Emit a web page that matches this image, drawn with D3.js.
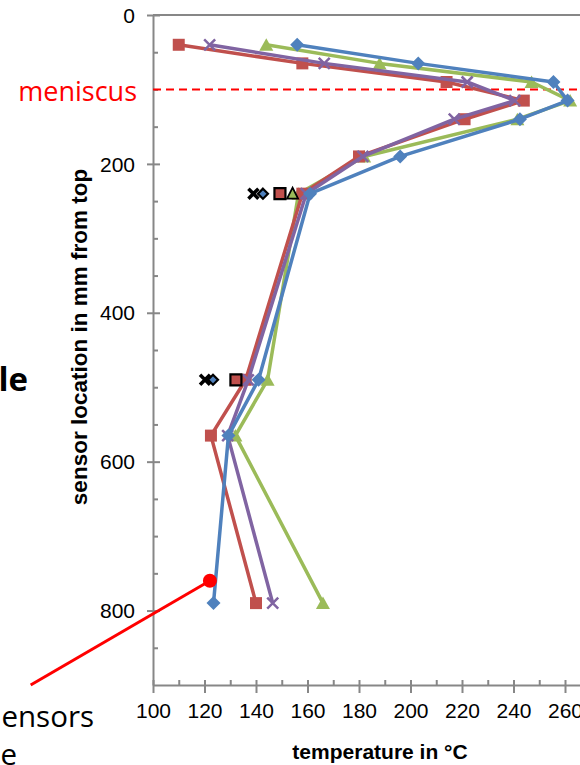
<!DOCTYPE html>
<html><head><meta charset="utf-8">
<script src="https://cdn.jsdelivr.net/npm/d3@7"></script>
<style>body{margin:0;background:#fff;overflow:hidden} svg{display:block}</style>
</head><body>
<svg id="c" width="580" height="765"></svg>
<script>
// ---- data ----
const depths = [40, 65, 90, 115, 140, 190, 240, 490, 565, 790];
const seriesBlue   = [156, 203, 255.5, 261, 242.5, 196, 161, 141, 129.3, 123.5];
const seriesRed    = [110, 158, 214, 244, 221, 180, 158, 136, 122.5, 140];
const seriesGreen  = [144, 188, 247, 262, 241.5, 182, 156.5, 144.5, 132, 166];
const seriesPurple = [122, 166.5, 222, 240.5, 217, 181.5, 159.5, 137, 129, 146.5];
const measDepths   = [240, 490];
const measCross    = [139, 120.2];
const measDiamond  = [142.7, 123.3];
const measSquare   = [149.3, 132.2];
const measTriangle = [154.2];
const xTicks = [100, 120, 140, 160, 180, 200, 220, 240, 260];
const xMinor = [110, 130, 150, 170, 190, 210, 230, 250, 270];
const yTicks = [0, 200, 400, 600, 800];
const yMinor = [50, 100, 150, 250, 300, 350, 450, 500, 550, 650, 700, 750, 850];
const meniscusDepth = 100;
const sensorPoint = [122.1, 760];
const sensorLineStart = [52.5, 900];

const svg = d3.select('#c');
const x = d3.scaleLinear().domain([100, 280]).range([153, 616.5]);
const y = d3.scaleLinear().domain([0, 900]).range([15, 685]);
const AX = '#878787';
const FONT = "'Liberation Sans', Arial, sans-serif";

// top border
svg.append('line').attr('x1', x(100)).attr('x2', 580).attr('y1', y(0)).attr('y2', y(0))
  .attr('stroke', AX).attr('stroke-width', 2);

// y axis
const gy = svg.append('g').attr('transform', `translate(${x(100)},0)`)
  .call(d3.axisLeft(y).tickValues(yTicks).tickSizeInner(6).tickSizeOuter(0).tickPadding(12));
gy.select('.domain').attr('stroke', AX).attr('stroke-width', 2);
gy.selectAll('.tick line').attr('stroke', AX).attr('stroke-width', 2).attr('x1', 7);
gy.selectAll('.tick text').attr('font-family', FONT).attr('font-size', 21).attr('fill', '#000').attr('dy', '0.34em');
const gym = svg.append('g').attr('transform', `translate(${x(100)},0)`)
  .call(d3.axisRight(y).tickValues(yMinor).tickSize(5).tickFormat(''));
gym.select('.domain').remove();
gym.selectAll('.tick line').attr('stroke', AX).attr('stroke-width', 2);

// x axis
const gx = svg.append('g').attr('transform', `translate(0,${y(900)})`)
  .call(d3.axisBottom(x).tickValues(xTicks).tickSizeInner(8).tickSizeOuter(0).tickPadding(10));
gx.select('.domain').attr('stroke', AX).attr('stroke-width', 2);
gx.selectAll('.tick line').attr('stroke', AX).attr('stroke-width', 2).attr('y1', -5);
gx.selectAll('.tick text').attr('font-family', FONT).attr('font-size', 21).attr('fill', '#000');
const gxm = svg.append('g').attr('transform', `translate(0,${y(900)})`)
  .call(d3.axisTop(x).tickValues(xMinor).tickSize(5).tickFormat(''));
gxm.select('.domain').remove();
gxm.selectAll('.tick line').attr('stroke', AX).attr('stroke-width', 2);

// meniscus line
svg.append('line').attr('x1', x(100)).attr('x2', 580).attr('y1', y(meniscusDepth)).attr('y2', y(meniscusDepth))
  .attr('stroke', '#ff0000').attr('stroke-width', 2).attr('stroke-dasharray', '8,5');

// series
const shapes = {
  diamond: 'M0,-7L7,0L0,7L-7,0Z',
  square: 'M-6,-6H6V6H-6Z',
  triangle: 'M0,-6.5L7,6L-7,6Z',
  cross: 'M-5.5,-5.5L5.5,5.5M5.5,-5.5L-5.5,5.5'
};
const series = [
  {vals: seriesGreen, color: '#9bbb59', shape: 'triangle'},
  {vals: seriesRed, color: '#c0504d', shape: 'square'},
  {vals: seriesPurple, color: '#8064a2', shape: 'cross'},
  {vals: seriesBlue, color: '#4f81bd', shape: 'diamond'}
];
const line = d3.line().x(d => x(d[0])).y(d => y(d[1]));
series.forEach(s => {
  const pts = s.vals.map((v, i) => [v, depths[i]]);
  const g = svg.append('g');
  g.append('path').attr('d', line(pts)).attr('fill', 'none').attr('stroke', s.color)
    .attr('stroke-width', 3.5).attr('stroke-linejoin', 'round');
  g.selectAll('path.m').data(pts).join('path').attr('class', 'm')
    .attr('transform', d => `translate(${x(d[0])},${y(d[1])})`)
    .attr('d', shapes[s.shape])
    .attr('fill', s.shape === 'cross' ? 'none' : s.color)
    .attr('stroke', s.shape === 'cross' ? s.color : 'none')
    .attr('stroke-width', 2.5);
});

// measurement markers
const mg = svg.append('g');
mg.selectAll('path.cx').data(measCross).join('path').attr('class', 'cx')
  .attr('transform', (d, i) => `translate(${x(d)},${y(measDepths[i])})`)
  .attr('d', 'M-5,-5L5,5M5,-5L-5,5').attr('stroke', '#000').attr('stroke-width', 3.5);
mg.selectAll('path.sq').data(measSquare).join('path').attr('class', 'sq')
  .attr('transform', (d, i) => `translate(${x(d)},${y(measDepths[i])})`)
  .attr('d', 'M-5.5,-5.5H5.5V5.5H-5.5Z').attr('fill', '#c0504d').attr('stroke', '#000').attr('stroke-width', 2.2);
mg.selectAll('path.tr').data(measTriangle).join('path').attr('class', 'tr')
  .attr('transform', (d, i) => `translate(${x(d)},${y(measDepths[i])})`)
  .attr('d', 'M0,-6L5.5,5L-5.5,5Z').attr('fill', '#9bbb59').attr('stroke', '#000').attr('stroke-width', 1.8);
mg.selectAll('path.di').data(measDiamond).join('path').attr('class', 'di')
  .attr('transform', (d, i) => `translate(${x(d)},${y(measDepths[i])})`)
  .attr('d', 'M0,-5L5,0L0,5L-5,0Z').attr('fill', '#4f81bd').attr('stroke', '#000').attr('stroke-width', 2.2);

// sensor annotation
svg.append('line').attr('x1', x(sensorLineStart[0])).attr('y1', y(sensorLineStart[1]))
  .attr('x2', x(sensorPoint[0])).attr('y2', y(sensorPoint[1]))
  .attr('stroke', '#ff0000').attr('stroke-width', 3);
svg.append('circle').attr('cx', x(sensorPoint[0])).attr('cy', y(sensorPoint[1])).attr('r', 7).attr('fill', '#ff0000');

// titles
svg.append('text').attr('x', 380).attr('y', 759).attr('text-anchor', 'middle')
  .attr('font-family', FONT).attr('font-weight', 'bold').attr('font-size', 21).text('temperature in °C');
svg.append('text').attr('transform', 'translate(87,337) rotate(-90)').attr('text-anchor', 'middle')
  .attr('font-family', FONT).attr('font-weight', 'bold').attr('font-size', 22.5).text('sensor location in mm from top');

// side texts
const SF = "'Open Sans', 'Noto Sans', sans-serif";
svg.append('text').attr('x', 137).attr('y', 101).attr('text-anchor', 'end').attr('fill', '#ff0000')
  .attr('font-family', SF).attr('font-size', 27).text('meniscus');
svg.append('text').attr('x', 28).attr('y', 391).attr('text-anchor', 'end')
  .attr('font-family', SF).attr('font-weight', 'bold').attr('font-size', 33).text('le');
svg.append('text').attr('x', 94).attr('y', 727).attr('text-anchor', 'end')
  .attr('font-family', SF).attr('font-size', 29.5).text('ensors');
svg.append('text').attr('x', 17).attr('y', 765).attr('text-anchor', 'end')
  .attr('font-family', SF).attr('font-size', 29.5).text('e');
</script>
</body></html>
